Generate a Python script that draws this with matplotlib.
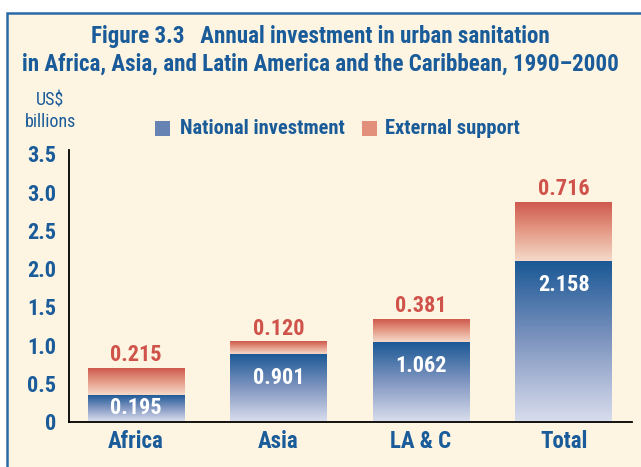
import matplotlib.pyplot as plt
import numpy as np
from matplotlib.patches import Rectangle
from matplotlib.colors import LinearSegmentedColormap

# categories and values
regions = ['Africa', 'Asia', 'LA & C', 'Total']
national_labels = ['0.195', '0.901', '1.062', '2.158']
external_labels = ['0.215', '0.120', '0.381', '0.716']
# bar heights as drawn in the original figure (US$ billions)
national_drawn = [0.35, 0.88, 1.04, 2.10]
external_drawn = [0.34, 0.16, 0.30, 0.77]
yticks = [0, 0.5, 1.0, 1.5, 2.0, 2.5, 3.0, 3.5]
ytick_labels = ['0', '0.5', '1.0', '1.5', '2.0', '2.5', '3.0', '3.5']

BG = '#fdf5e2'
BLUE_TXT = '#1a5b99'
RED_TXT = '#d0534b'
FONT = ['Roboto Condensed', 'Archivo Narrow', 'Liberation Sans Narrow', 'DejaVu Sans']

plt.rcParams['font.family'] = FONT

fig = plt.figure(figsize=(6.41, 4.67), dpi=100)
fig.patch.set_facecolor('white')
# cream panel with blue frame (runs off right/bottom edge)
panel = Rectangle((7 / 641, -0.05), 1.0, 1 - 13 / 467 + 0.05,
                  transform=fig.transFigure, facecolor=BG,
                  edgecolor='#2b6aa6', linewidth=1.8, zorder=-5)
fig.patches.append(panel)

ax = fig.add_axes([69 / 641, (467 - 421.5) / 467, (632 - 69) / 641, (421.5 - 150) / 467])
ax.set_facecolor('none')
ax.set_zorder(2)

blue_cmap = LinearSegmentedColormap.from_list('b', ['#d7dcec', '#7f95c0', '#1a5895'])
red_cmap = LinearSegmentedColormap.from_list('r', ['#f5d9c9', '#e59c88', '#cf5a4e'])
grad = np.linspace(0, 1, 100).reshape(-1, 1)

x = np.arange(len(regions))
w = 0.68
for i in range(len(regions)):
    nat = national_drawn[i]
    ext = external_drawn[i]
    ax.imshow(grad, cmap=blue_cmap, aspect='auto', origin='lower',
              extent=(x[i] - w / 2, x[i] + w / 2, 0, nat), zorder=2)
    ax.imshow(grad, cmap=red_cmap, aspect='auto', origin='lower',
              extent=(x[i] - w / 2, x[i] + w / 2, nat, nat + ext), zorder=2)
    ty = max(nat - 0.31, nat / 2)
    ax.text(x[i], ty, national_labels[i], color='white', fontsize=16,
            fontweight='bold', ha='center', va='center', zorder=3)
    ax.text(x[i], nat + ext + 0.03, external_labels[i], color=RED_TXT, fontsize=16,
            fontweight='bold', ha='center', va='bottom', zorder=3)

ax.set_xlim(-0.47, 3.48)
ax.set_ylim(0, 3.55)
ax.set_xticks(x)
ax.set_xticklabels(regions, fontsize=16.5, fontweight='bold', color=BLUE_TXT)
ax.set_yticks(yticks)
ax.set_yticklabels(ytick_labels, fontsize=16, fontweight='bold', color=BLUE_TXT)
ax.tick_params(axis='x', length=0, pad=6)
ax.tick_params(axis='y', length=0, pad=9)
ax.spines['top'].set_visible(False)
ax.spines['right'].set_visible(False)
ax.spines['left'].set_linewidth(1.3)
ax.spines['bottom'].set_linewidth(1.3)

# title
fig.text(0.5, 1 - 36 / 467, 'Figure 3.3   Annual investment in urban sanitation',
         ha='center', va='center', fontsize=16.6, fontweight='bold', color=BLUE_TXT)
fig.text(0.5, 1 - 64 / 467, 'in Africa, Asia, and Latin America and the Caribbean, 1990\u20132000',
         ha='center', va='center', fontsize=16.6, fontweight='bold', color=BLUE_TXT)

# unit label
fig.text(50 / 641, 1 - 100 / 467, 'US$', ha='center', va='center', fontsize=13, color=BLUE_TXT)
fig.text(50 / 641, 1 - 122 / 467, 'billions', ha='center', va='center', fontsize=13, color=BLUE_TXT)

# legend
fig.patches.append(Rectangle((155 / 641, 1 - 136 / 467), 15 / 641, 15 / 467,
                             transform=fig.transFigure, facecolor='#6783b3', edgecolor='none'))
fig.text(180 / 641, 1 - 129 / 467, 'National investment', ha='left', va='center',
         fontsize=14.8, fontweight='bold', color=BLUE_TXT)
fig.patches.append(Rectangle((362 / 641, 1 - 136 / 467), 15 / 641, 15 / 467,
                             transform=fig.transFigure, facecolor='#e2907c', edgecolor='none'))
fig.text(385 / 641, 1 - 129 / 467, 'External support', ha='left', va='center',
         fontsize=14.8, fontweight='bold', color=BLUE_TXT)

fig.savefig('out.png', dpi=100, facecolor=fig.get_facecolor())
